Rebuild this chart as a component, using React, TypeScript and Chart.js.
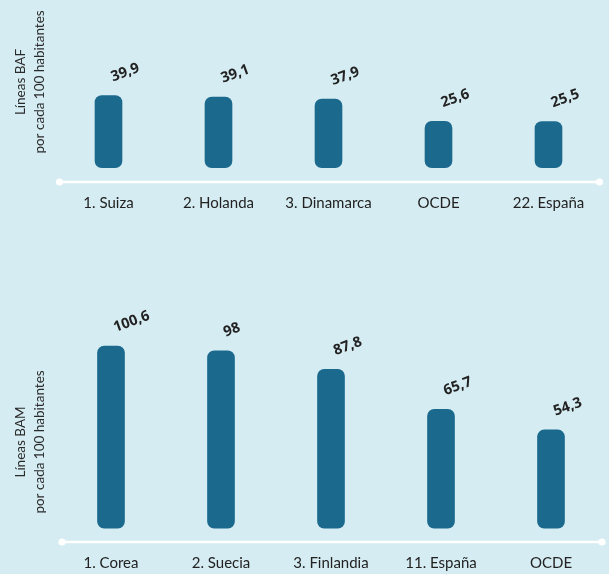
import React, { useEffect, useRef } from "react";
import { Chart, registerables } from "chart.js";

Chart.register(...registerables);

const bafCategories = ["1. Suiza", "2. Holanda", "3. Dinamarca", "OCDE", "22. España"];
const bafValues = [39.9, 39.1, 37.9, 25.6, 25.5];
const bafTitle = ["Líneas BAF", "por cada 100 habitantes"];

const bamCategories = ["1. Corea", "2. Suecia", "3. Finlandia", "11. España", "OCDE"];
const bamValues = [100.6, 98, 87.8, 65.7, 54.3];
const bamTitle = ["Líneas BAM", "por cada 100 habitantes"];

const BG = "#d5ecf2";
const BAR = "#1b6a8e";
const TEXT = "#222222";

const fmt = (v: number) => String(v).replace(".", ",");

const decorPlugin = {
  id: "decor",
  afterDraw(chart: any, _args: any, opts: any) {
    const { ctx, chartArea } = chart;
    // axis line with dots
    const y = chartArea.bottom;
    const x1 = chartArea.left + 6;
    const x2 = chartArea.right - 4;
    ctx.save();
    ctx.strokeStyle = "#ffffff";
    ctx.fillStyle = "#ffffff";
    ctx.lineWidth = 2.5;
    ctx.beginPath();
    ctx.moveTo(x1, y);
    ctx.lineTo(x2, y);
    ctx.stroke();
    ctx.beginPath();
    ctx.arc(x1, y, 3.6, 0, Math.PI * 2);
    ctx.arc(x2, y, 3.6, 0, Math.PI * 2);
    ctx.fill();
    ctx.restore();

    // y title
    const lines: string[] = opts.title || [];
    const cy = chartArea.bottom - 100;
    ctx.save();
    ctx.fillStyle = "#2a2a2a";
    ctx.font = "13.5px Lato, 'Noto Sans', sans-serif";
    ctx.textAlign = "center";
    ctx.textBaseline = "alphabetic";
    const baselines = [25, 44];
    lines.forEach((t, i) => {
      ctx.save();
      ctx.translate(baselines[i], cy);
      ctx.rotate(-Math.PI / 2);
      ctx.fillText(t, 0, 0);
      ctx.restore();
    });
    ctx.restore();

    // value labels
    const meta = chart.getDatasetMeta(0);
    const data = chart.data.datasets[0].data as number[];
    ctx.save();
    ctx.fillStyle = TEXT;
    ctx.font = "bold 14.5px 'Open Sans', 'Noto Sans', sans-serif";
    ctx.textAlign = "left";
    ctx.textBaseline = "middle";
    meta.data.forEach((el: any, i: number) => {
      ctx.save();
      ctx.translate(el.x + 3, el.y - 18);
      ctx.rotate((-20 * Math.PI) / 180);
      ctx.fillText(fmt(data[i]), 0, 0);
      ctx.restore();
    });
    ctx.restore();
  },
};

function makeConfig(
  labels: string[],
  values: number[],
  title: string[],
  yMin: number,
  yMax: number,
  padLeft: number,
  padRight: number,
  xHeight: number
): any {
  return {
    type: "bar",
    data: {
      labels,
      datasets: [
        {
          data: values,
          backgroundColor: BAR,
          borderRadius: 7,
          borderSkipped: false,
          barThickness: 27,
        },
      ],
    },
    options: {
      animation: false,
      responsive: false,
      maintainAspectRatio: false,
      layout: { padding: { left: padLeft, right: padRight, top: 0, bottom: 0 } },
      plugins: {
        legend: { display: false },
        tooltip: { enabled: false },
        decor: { title },
      },
      scales: {
        x: {
          grid: { display: false, drawTicks: false },
          border: { display: false },
          ticks: {
            color: TEXT,
            font: { family: "Lato, 'Noto Sans', sans-serif", size: 15 },
            padding: 12,
            maxRotation: 0,
            autoSkip: false,
          },
          afterFit: (s: any) => {
            s.height = xHeight;
          },
        },
        y: {
          display: false,
          min: yMin,
          max: yMax,
        },
      },
    },
    plugins: [decorPlugin],
  };
}

function BarPanel(props: {
  labels: string[];
  values: number[];
  title: string[];
  yMin: number;
  yMax: number;
  padLeft: number;
  padRight: number;
  xHeight: number;
  top: number;
  height: number;
}) {
  const ref = useRef<HTMLCanvasElement | null>(null);
  useEffect(() => {
    if (!ref.current) return;
    const chart = new Chart(
      ref.current,
      makeConfig(
        props.labels,
        props.values,
        props.title,
        props.yMin,
        props.yMax,
        props.padLeft,
        props.padRight,
        props.xHeight
      )
    );
    return () => chart.destroy();
  }, []);
  return (
    <canvas
      ref={ref}
      width={609}
      height={props.height}
      style={{ position: "absolute", left: 0, top: props.top, width: 609, height: props.height }}
    />
  );
}

export default function App() {
  return (
    <div
      style={{
        position: "fixed",
        left: 0,
        top: 0,
        width: 609,
        height: 574,
        overflow: "hidden",
        background: BG,
      }}
    >
      <BarPanel
        labels={bafCategories}
        values={bafValues}
        title={bafTitle}
        yMin={-7.9}
        yMax={92.7}
        padLeft={53.5}
        padRight={5.5}
        xHeight={33}
        top={0}
        height={215}
      />
      <BarPanel
        labels={bamCategories}
        values={bamValues}
        title={bamTitle}
        yMin={-7.6}
        yMax={131.6}
        padLeft={56}
        padRight={3}
        xHeight={32}
        top={290}
        height={284}
      />
    </div>
  );
}
